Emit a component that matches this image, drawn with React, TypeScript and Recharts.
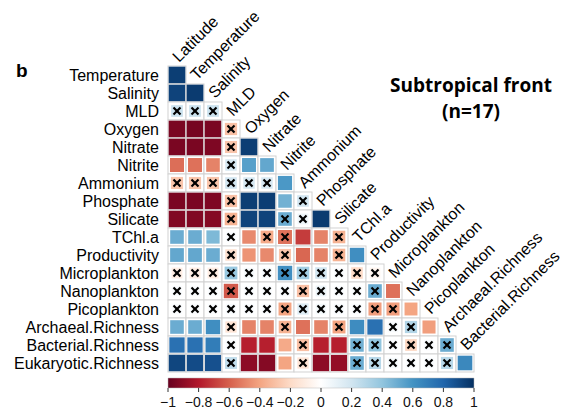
import React from 'react';
import { ScatterChart, Scatter, XAxis, YAxis, ReferenceArea } from 'recharts';

// rows (y) and columns (x) of the lower-triangle correlation matrix
const ROW_NAMES = [
  'Temperature', 'Salinity', 'MLD', 'Oxygen', 'Nitrate', 'Nitrite', 'Ammonium',
  'Phosphate', 'Silicate', 'TChl.a', 'Productivity', 'Microplankton',
  'Nanoplankton', 'Picoplankton', 'Archaeal.Richness', 'Bacterial.Richness',
  'Eukaryotic.Richness',
];
const COL_NAMES = [
  'Latitude', 'Temperature', 'Salinity', 'MLD', 'Oxygen', 'Nitrate', 'Nitrite',
  'Ammonium', 'Phosphate', 'Silicate', 'TChl.a', 'Productivity', 'Microplankton',
  'Nanoplankton', 'Picoplankton', 'Archaeal.Richness', 'Bacterial.Richness',
];

// correlation coefficients, one row per ROW_NAMES entry
const CORR: number[][] = [
  [0.95],
  [0.93, 0.96],
  [0.22, 0.22, 0.22],
  [-0.95, -0.96, -0.95, -0.3],
  [-0.95, -0.95, -0.94, -0.28, 0.95],
  [-0.56, -0.55, -0.5, 0.18, 0.55, 0.52],
  [-0.28, -0.28, -0.28, 0.2, 0.18, 0.18, 0.58],
  [-0.95, -0.95, -0.94, -0.3, 0.95, 0.95, 0.48, 0.2],
  [-0.93, -0.93, -0.92, -0.35, 0.93, 0.93, 0.5, 0.08, 0.96],
  [0.5, 0.5, 0.45, 0.02, -0.48, -0.38, -0.55, -0.7, -0.5, -0.35],
  [0.52, 0.52, 0.5, -0.18, -0.45, -0.48, -0.28, -0.58, -0.5, -0.35, 0.62],
  [-0.1, -0.1, -0.1, 0.38, 0.04, 0.04, 0.62, 0.35, 0.2, 0.02, -0.2, -0.06],
  [0.02, 0.02, 0.02, -0.62, 0.02, 0.02, 0.03, -0.3, 0.08, 0.02, 0.02, 0.5, -0.55],
  [0.02, 0.02, 0.02, 0.03, 0.02, 0.02, -0.4, 0.15, 0.05, 0.03, 0.02, -0.42, -0.42, -0.4],
  [0.5, 0.5, 0.62, -0.15, -0.5, -0.5, -0.35, -0.55, -0.5, -0.4, 0.63, 0.75, 0.03, 0.3, -0.42],
  [0.75, 0.75, 0.7, 0.03, -0.78, -0.78, -0.38, -0.3, -0.78, -0.78, 0.48, 0.4, 0.03, -0.22, 0.03, 0.5],
  [0.92, 0.9, 0.88, 0.25, -0.9, -0.92, -0.4, -0.15, -0.9, -0.88, 0.5, 0.28, 0.04, 0.02, 0.02, 0.28, 0.65],
];

// 1 = not significant (crossed out)
const CROSSED: number[][] = [
  [0],
  [0, 0],
  [1, 1, 1],
  [0, 0, 0, 1],
  [0, 0, 0, 1, 0],
  [0, 0, 0, 1, 0, 0],
  [1, 1, 1, 1, 1, 1, 0],
  [0, 0, 0, 1, 0, 0, 0, 1],
  [0, 0, 0, 1, 0, 0, 1, 1, 0],
  [0, 0, 0, 1, 0, 1, 1, 0, 0, 1],
  [0, 0, 0, 1, 0, 0, 1, 0, 0, 1, 0],
  [1, 1, 1, 1, 1, 1, 1, 1, 1, 1, 1, 1],
  [1, 1, 1, 1, 1, 1, 1, 1, 1, 1, 1, 1, 0],
  [1, 1, 1, 1, 1, 1, 1, 1, 1, 1, 1, 1, 1, 0],
  [0, 0, 0, 1, 0, 0, 1, 0, 0, 1, 0, 0, 1, 1, 0],
  [0, 0, 0, 1, 0, 0, 0, 1, 0, 0, 1, 1, 1, 1, 1, 1],
  [0, 0, 0, 1, 0, 0, 0, 1, 0, 0, 1, 1, 1, 1, 1, 1, 0],
];

const COLORBAR_TICKS = [-1, -0.8, -0.6, -0.4, -0.2, 0, 0.2, 0.4, 0.6, 0.8, 1];

const PALETTE = [
  '#67001F', '#B2182B', '#D6604D', '#F4A582', '#FDDBC7', '#FFFFFF',
  '#D1E5F0', '#92C5DE', '#4393C3', '#2166AC', '#053061',
];

const FONT = '"Liberation Sans", Arial, sans-serif';
const CELL = 18;
const X_MIN = -0.5;
const X_MAX = 16.5;

// ── helpers ─────────────────────────────────────────────────────────────────

function hexToRgb(h: string) {
  return [1, 3, 5].map(i => parseInt(h.slice(i, i + 2), 16));
}

function colorFor(v: number) {
  const t = Math.max(0, Math.min(10, ((v + 1) / 2) * 10));
  const i = Math.min(9, Math.floor(t));
  const f = t - i;
  const a = hexToRgb(PALETTE[i]);
  const b = hexToRgb(PALETTE[i + 1]);
  const c = a.map((x, k) => Math.round(x + (b[k] - x) * f));
  return `rgb(${c[0]},${c[1]},${c[2]})`;
}

// colour bar shares the matrix x axis: r in [-1, 1] -> column space
const rToX = (r: number) => X_MIN + ((r + 1) / 2) * (X_MAX - X_MIN);
const xToR = (x: number) => ((x - X_MIN) / (X_MAX - X_MIN)) * 2 - 1;

const fmtTick = (x: number) => {
  const v = Math.round(xToR(x) * 10) / 10;
  return v === 0 ? '0' : v < 0 ? `\u2212${Math.abs(v)}` : `${v}`;
};

const cells = CORR.flatMap((row, r) =>
  row.map((v, c) => ({ x: c, y: r, v, crossed: CROSSED[r][c] === 1 })),
);

const colLabels = COL_NAMES.map((name, c) => ({ x: c, y: c - 0.5, name }));

// ── shapes ──────────────────────────────────────────────────────────────────

function CellShape(props: any) {
  const { cx, cy, payload } = props;
  const s = (CELL - 1) * (0.6 + 0.4 * Math.abs(payload.v));
  const h = CELL / 2;
  return (
    <g>
      <rect x={cx - h} y={cy - h} width={CELL} height={CELL} fill="#fff" stroke="#d2d2d2" strokeWidth={1} />
      <rect x={cx - s / 2} y={cy - s / 2} width={s} height={s} fill={colorFor(payload.v)} />
      {payload.crossed && (
        <g stroke="#000" strokeWidth={2.2}>
          <line x1={cx - 3.5} y1={cy - 3.5} x2={cx + 3.5} y2={cy + 3.5} />
          <line x1={cx - 3.5} y1={cy + 3.5} x2={cx + 3.5} y2={cy - 3.5} />
        </g>
      )}
    </g>
  );
}

function ColLabelShape(props: any) {
  const { cx, cy, payload } = props;
  const x = cx + 2;
  const y = cy - 3;
  return (
    <text x={x} y={y} transform={`rotate(-45 ${x} ${y})`} fontSize={16} fontFamily={FONT} fill="#000">
      {payload.name}
    </text>
  );
}

// ── component ───────────────────────────────────────────────────────────────

export default function App() {
  return (
    <div style={{ position: 'absolute', left: 0, top: 0, width: 568, height: 415, background: '#fff' }}>
      <ScatterChart width={568} height={415} margin={{ top: 66, right: 94, bottom: 0, left: 0 }}>
        <defs>
          <linearGradient id="cbGrad" x1="0" y1="0" x2="1" y2="0">
            {PALETTE.map((c, i) => (
              <stop key={i} offset={`${i * 10}%`} stopColor={c} />
            ))}
          </linearGradient>
        </defs>
        <XAxis
          type="number"
          dataKey="x"
          domain={[X_MIN, X_MAX]}
          ticks={COLORBAR_TICKS.map(rToX)}
          tickFormatter={fmtTick}
          interval={0}
          axisLine={false}
          tickLine={{ stroke: '#333' }}
          tickSize={4}
          tickMargin={5}
          height={27}
          tick={{ fontSize: 14, fill: '#111', fontFamily: FONT }}
        />
        <YAxis
          type="number"
          dataKey="y"
          domain={[-0.5, 17.3889]}
          reversed
          ticks={ROW_NAMES.map((_, i) => i)}
          interval={0}
          tickFormatter={(i: number) => ROW_NAMES[i] ?? ''}
          axisLine={false}
          tickLine={false}
          tickSize={0}
          tickMargin={9}
          width={168}
          tick={{ fontSize: 16, fill: '#000', fontFamily: FONT }}
        />
        <ReferenceArea
          x1={X_MIN}
          x2={X_MAX}
          y1={16.8333}
          y2={17.3889}
          fill="url(#cbGrad)"
          fillOpacity={1}
          stroke="#bbb"
          strokeWidth={0.5}
          ifOverflow="visible"
        />
        <Scatter data={cells} shape={CellShape} isAnimationActive={false} />
        <Scatter data={colLabels} shape={ColLabelShape} isAnimationActive={false} />
      </ScatterChart>
      <svg width={568} height={415} style={{ position: 'absolute', left: 0, top: 0, pointerEvents: 'none' }}>
        <text x={16} y={77} fontSize={19} fontWeight="bold" fontFamily={FONT}>b</text>
        <text x={471} y={92} textAnchor="middle" fontSize={19} fontWeight="bold" fontFamily='"Open Sans", sans-serif'>
          Subtropical front
        </text>
        <text x={471} y={118} textAnchor="middle" fontSize={19} fontWeight="bold" fontFamily='"Open Sans", sans-serif'>
          (n=17)
        </text>
      </svg>
    </div>
  );
}
